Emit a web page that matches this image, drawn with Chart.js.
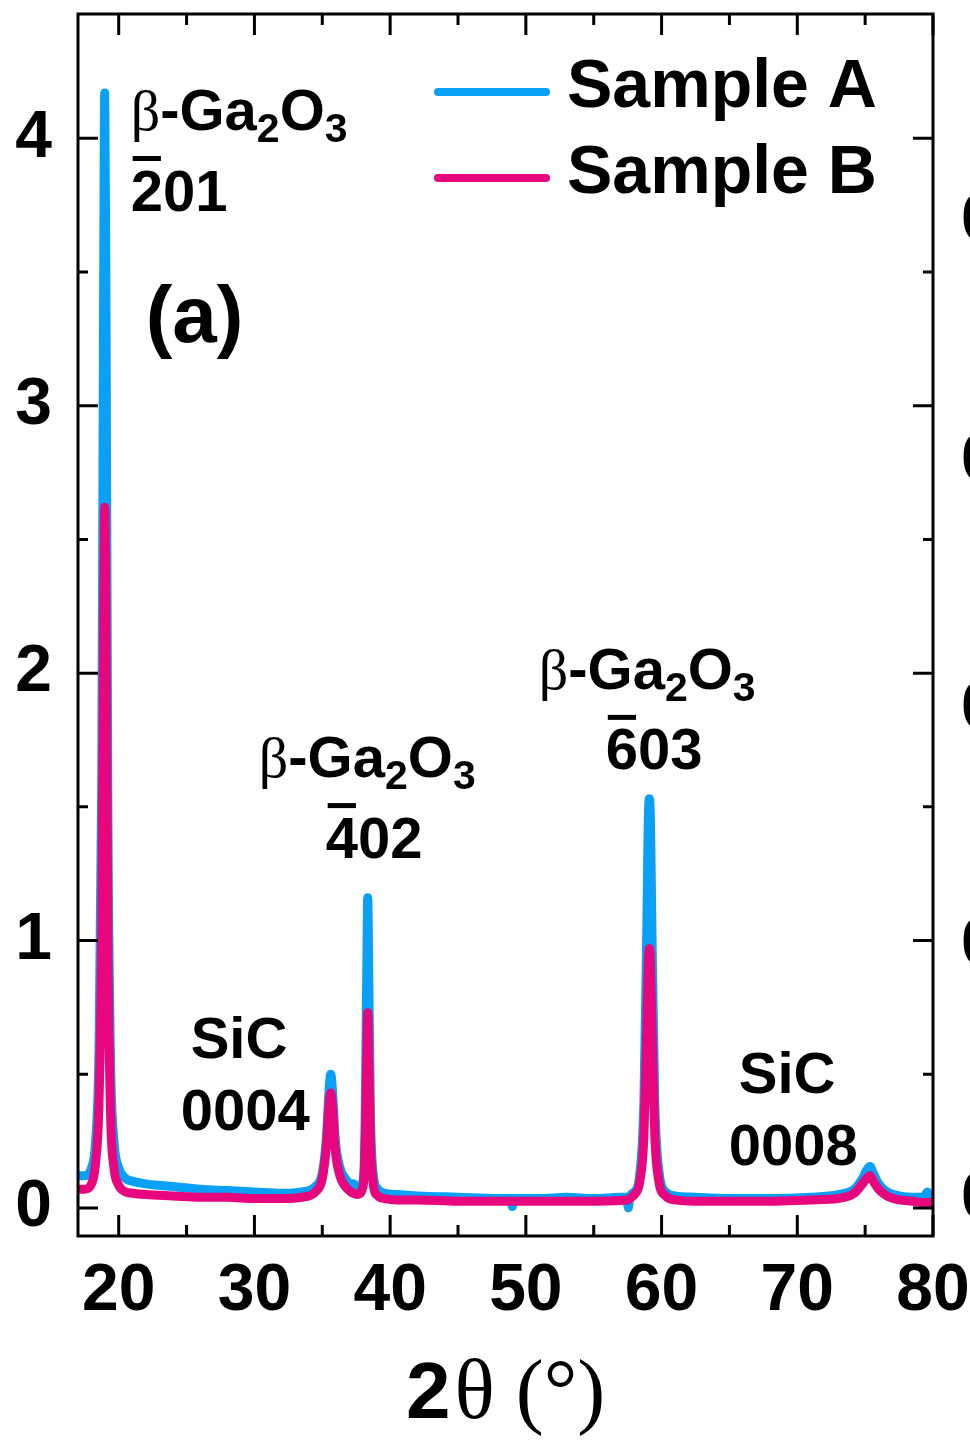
<!DOCTYPE html>
<html>
<head>
<meta charset="utf-8">
<script src="https://cdn.jsdelivr.net/npm/chart.js@4.4.1/dist/chart.umd.min.js"></script>
<style>
  body { margin: 0; background: #fff; }
  #xrd { display: block; }
</style>
</head>
<body>
<canvas id="xrd" width="970" height="1440"></canvas>
<script>
// 2theta positions (deg) and intensities
const twoTheta = [17.0, 17.5, 18.0, 18.3, 18.55, 18.75, 18.88, 18.97, 19.06, 19.2, 19.4, 19.65, 20.0, 20.5, 21.0, 22.0, 24.0, 26.0, 28.0, 30.0,
  32.0, 33.5, 34.5, 35.0, 35.3, 35.5, 35.62, 35.75, 35.95, 36.3, 36.7, 37.1, 37.3, 37.6, 38.0, 38.15, 38.27, 38.35, 38.43, 38.55,
  38.75, 39.1, 39.6, 40.5, 42.0, 45.0, 48.0, 48.9, 49.0, 49.1, 51.0, 53.0, 55.0, 57.0, 57.45, 57.55, 57.65, 58.0, 58.4, 58.7,
  58.9, 59.02, 59.1, 59.18, 59.3, 59.5, 59.8, 60.3, 61.0, 62.5, 65.0, 68.0, 71.0, 73.0, 74.2, 74.8, 75.1, 75.35, 75.6, 76.0,
  76.6, 77.5, 78.5, 79.3, 79.6, 79.9, 80.0];
const sampleA = [0.12, 0.12, 0.15, 0.25, 0.6, 1.6, 3.3, 4.17, 3.4, 1.5, 0.55, 0.25, 0.15, 0.11, 0.10, 0.09, 0.08, 0.07, 0.065, 0.06,
  0.055, 0.06, 0.08, 0.13, 0.26, 0.44, 0.50, 0.44, 0.26, 0.15, 0.11, 0.09, 0.09, 0.075, 0.1, 0.3, 0.85, 1.16, 0.85, 0.35,
  0.13, 0.07, 0.055, 0.05, 0.045, 0.04, 0.035, 0.035, 0.005, 0.035, 0.035, 0.04, 0.035, 0.04, 0.04, 0.0, 0.04, 0.06, 0.13, 0.4,
  1.0, 1.45, 1.53, 1.45, 1.0, 0.4, 0.14, 0.06, 0.045, 0.04, 0.035, 0.035, 0.04, 0.05, 0.07, 0.11, 0.14, 0.155, 0.13, 0.09,
  0.06, 0.045, 0.04, 0.04, 0.06, 0.045, 0.045];
const sampleB = [0.07, 0.07, 0.09, 0.17, 0.4, 1.05, 2.1, 2.62, 2.15, 1.0, 0.35, 0.15, 0.085, 0.06, 0.055, 0.05, 0.045, 0.04, 0.04, 0.035,
  0.035, 0.04, 0.06, 0.11, 0.23, 0.39, 0.43, 0.38, 0.22, 0.12, 0.08, 0.06, 0.055, 0.05, 0.08, 0.22, 0.55, 0.73, 0.55, 0.24,
  0.09, 0.045, 0.035, 0.03, 0.03, 0.025, 0.025, 0.025, 0.025, 0.025, 0.025, 0.025, 0.025, 0.028, 0.03, 0.03, 0.035, 0.05, 0.1, 0.27,
  0.65, 0.92, 0.97, 0.92, 0.65, 0.27, 0.1, 0.045, 0.03, 0.025, 0.025, 0.025, 0.03, 0.035, 0.055, 0.09, 0.11, 0.12, 0.1, 0.07,
  0.045, 0.03, 0.025, 0.02, 0.02, 0.02, 0.02];

const seriesNames = ["Sample A", "Sample B"];
const seriesColors = ["#0aa0f5", "#e8067f"];

const xTicks = [20, 30, 40, 50, 60, 70, 80];
const xMinor = [25, 35, 45, 55, 65, 75];
const yTicks = [0, 1, 2, 3, 4];
const yMinor = [0.5, 1.5, 2.5, 3.5];

// peak labels, anchored at [2theta, intensity] of the text's left baseline
const peakLabels = [
  { x: 20.88, y: 4.03, kind: "phase" },
  { x: 20.88, y: 3.73, text: "201" },
  { x: 30.32, y: 1.61, kind: "phase" },
  { x: 35.25, y: 1.31, text: "402" },
  { x: 50.95, y: 1.94, kind: "phase" },
  { x: 55.89, y: 1.64, text: "603" },
  { x: 25.3, y: 0.56, text: "SiC", plain: true },
  { x: 24.57, y: 0.29, text: "0004", plain: true },
  { x: 65.69, y: 0.43, text: "SiC", plain: true },
  { x: 64.95, y: 0.16, text: "0008", plain: true },
];

const SANS = '"Liberation Sans", Arial, sans-serif';
const SERIF = '"Liberation Serif", "Times New Roman", serif';
const LABEL_SIZE = 58;

function drawPhase(ctx, x, y, size) {
  const parts = [
    ["\u03B2", `${size}px ${SERIF}`, 0],
    ["-Ga", `bold ${size}px ${SANS}`, 0],
    ["2", `bold ${Math.round(size * 0.7)}px ${SANS}`, size * 0.2],
    ["O", `bold ${size}px ${SANS}`, 0],
    ["3", `bold ${Math.round(size * 0.7)}px ${SANS}`, size * 0.2],
  ];
  let cx = x;
  for (const [t, f, dy] of parts) {
    ctx.font = f;
    ctx.fillText(t, cx, y + dy);
    cx += ctx.measureText(t).width;
  }
}

function drawIndex(ctx, x, y, text, size, bar) {
  ctx.font = `bold ${size}px ${SANS}`;
  ctx.fillText(text, x, y);
  if (bar) {
    const w = ctx.measureText(text[0]).width;
    ctx.fillRect(x + 2, y - size * 0.716 - 13, w - 4, 5);
  }
}

const decor = {
  id: "decor",
  afterDraw(chart) {
    const { ctx, chartArea: a, scales: { x, y } } = chart;
    ctx.save();
    ctx.fillStyle = "#000";
    ctx.strokeStyle = "#000";
    ctx.textBaseline = "alphabetic";
    ctx.textAlign = "left";

    // frame
    ctx.lineWidth = 3;
    ctx.strokeRect(a.left, a.top, a.right - a.left, a.bottom - a.top);

    // inward tick marks on all four sides
    const tick = (vals, len, horiz) => {
      vals.forEach((v) => {
        ctx.beginPath();
        if (horiz) {
          const px = x.getPixelForValue(v);
          ctx.moveTo(px, a.bottom); ctx.lineTo(px, a.bottom - len);
          ctx.moveTo(px, a.top); ctx.lineTo(px, a.top + len);
        } else {
          const py = y.getPixelForValue(v);
          ctx.moveTo(a.left, py); ctx.lineTo(a.left + len, py);
          ctx.moveTo(a.right, py); ctx.lineTo(a.right - len, py);
        }
        ctx.stroke();
      });
    };
    tick(xTicks, 21, true);
    tick(xMinor, 11, true);
    tick(yTicks, 20, false);
    tick(yMinor, 10, false);

    // peak labels
    peakLabels.forEach((p) => {
      const px = x.getPixelForValue(p.x), py = y.getPixelForValue(p.y);
      if (p.kind === "phase") drawPhase(ctx, px, py, LABEL_SIZE);
      else drawIndex(ctx, px, py, p.text, LABEL_SIZE, !p.plain);
    });

    // panel tag
    ctx.font = `bold 80px ${SANS}`;
    ctx.fillText("(a)", x.getPixelForValue(21.99), y.getPixelForValue(3.24));

    // legend
    chart.data.datasets.forEach((ds, i) => {
      const ly = a.top + 78 + i * 86;
      ctx.lineCap = "round";
      ctx.lineWidth = 8;
      ctx.strokeStyle = ds.borderColor;
      ctx.beginPath();
      ctx.moveTo(a.left + 360, ly); ctx.lineTo(a.left + 468, ly);
      ctx.stroke();
      ctx.font = `bold 68px ${SANS}`;
      ctx.textBaseline = "middle";
      ctx.fillText(ds.label, a.left + 489, ly - 4);
      ctx.textBaseline = "alphabetic";
    });

    // axis title: 2θ (°)
    ctx.font = `bold 80px ${SANS}`;
    const w1 = ctx.measureText("2").width;
    ctx.font = `bold 84px ${SERIF}`;
    const w2 = ctx.measureText("\u03B8 (\u00B0)").width;
    const tx = (a.left + a.right) / 2 - (w1 + w2) / 2;
    ctx.font = `bold 80px ${SANS}`;
    ctx.fillText("2", tx, 1418);
    ctx.font = `84px ${SERIF}`;
    ctx.fillText("\u03B8 (\u00B0)", tx + w1 + 4, 1418);

    // clipped labels of the neighbouring panel at the right edge
    ctx.font = `bold 66px ${SANS}`;
    ctx.textBaseline = "middle";
    [222, 462, 710, 946, 1200].forEach((py) => ctx.fillText("0", 961, py));
    ctx.restore();
  },
};

const ctx = document.getElementById("xrd").getContext("2d");
const chart = new Chart(ctx, {
  type: "line",
  data: {
    labels: twoTheta,
    datasets: [
      {
        label: seriesNames[0],
        data: twoTheta.map((t, i) => ({ x: t, y: sampleA[i] })),
        borderColor: seriesColors[0],
        order: 2,
      },
      {
        label: seriesNames[1],
        data: twoTheta.map((t, i) => ({ x: t, y: sampleB[i] })),
        borderColor: seriesColors[1],
        order: 1,
      },
    ],
  },
  options: {
    responsive: false,
    animation: false,
    devicePixelRatio: 1,
    layout: { padding: { top: 14, right: 37, left: 0, bottom: 0 } },
    elements: {
      line: { borderWidth: 9, cubicInterpolationMode: "monotone", borderCapStyle: "round", borderJoinStyle: "round" },
      point: { radius: 0 },
    },
    plugins: { legend: { display: false }, tooltip: { enabled: false } },
    scales: {
      x: {
        type: "linear",
        min: 17,
        max: 80,
        grid: { display: false, drawTicks: false },
        border: { display: false },
        afterBuildTicks: (axis) => { axis.ticks = xTicks.map((v) => ({ value: v })); },
        afterFit: (axis) => {
          axis.height = 204;
          axis.paddingLeft = 0; axis.paddingRight = 0;
        },
        ticks: { color: "#000", font: { family: SANS, size: 66, weight: "bold" }, padding: 16, maxRotation: 0 },
      },
      y: {
        min: -0.105,
        max: 4.465,
        grid: { display: false, drawTicks: false },
        border: { display: false },
        afterBuildTicks: (axis) => { axis.ticks = yTicks.map((v) => ({ value: v })); },
        afterFit: (axis) => {
          axis.width = 78;
          axis.paddingTop = 0; axis.paddingBottom = 0;
        },
        ticks: { color: "#000", font: { family: SANS, size: 66, weight: "bold" }, padding: 26 },
      },
    },
  },
  plugins: [decor],
});
</script>
</body>
</html>
